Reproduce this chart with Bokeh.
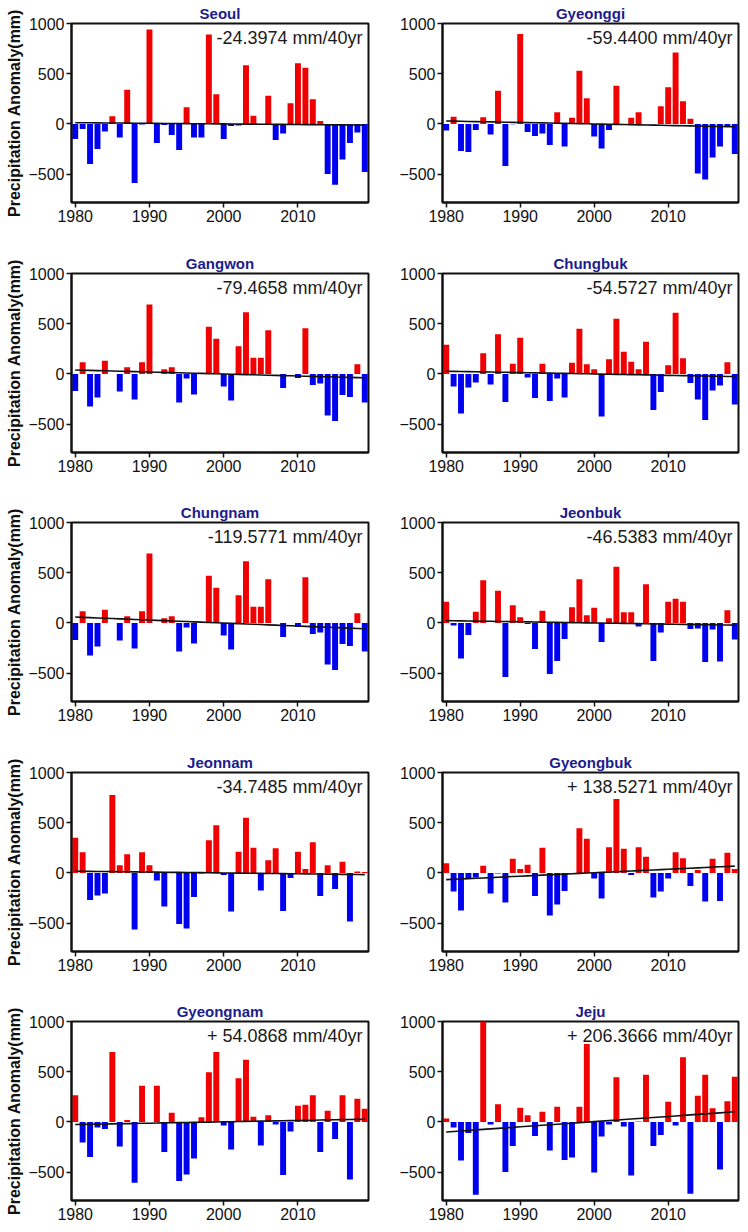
from bokeh.plotting import figure
from bokeh.layouts import column, row
from bokeh.models import Range1d, Label, FixedTicker, ColumnDataSource
from bokeh.embed import file_html
from bokeh.resources import INLINE
import numpy as np

years = list(range(1980, 2020))

regions = ["Seoul", "Gyeonggi", "Gangwon", "Chungbuk", "Chungnam",
           "Jeonbuk", "Jeonnam", "Gyeongbuk", "Gyeongnam", "Jeju"]

trend_labels = ["-24.3974 mm/40yr", "-59.4400 mm/40yr", "-79.4658 mm/40yr",
                "-54.5727 mm/40yr", "-119.5771 mm/40yr", "-46.5383 mm/40yr",
                "-34.7485 mm/40yr", "+ 138.5271 mm/40yr", "+ 54.0868 mm/40yr",
                "+ 206.3666 mm/40yr"]
trend_per_40yr = [-24.3974, -59.4400, -79.4658, -54.5727, -119.5771,
                  -46.5383, -34.7485, 138.5271, 54.0868, 206.3666]

seoul = [-150, -50, -400, -250, -75, 75, -135, 340, -590, -5,
         940, -190, -10, -110, -260, 165, -135, -135, 890, 295,
         -150, -20, -15, 585, 80, -5, 280, -160, -95, 205,
         605, 560, 245, 30, -500, -605, -355, -190, -85, -480]
gyeonggi = [-65, 70, -270, -280, -60, 65, -105, 330, -420, -3,
            895, -80, -120, -95, -210, 115, -225, 60, 530, 255,
            -125, -245, -60, 380, -3, 60, 115, -3, -3, 175,
            365, 710, 225, 50, -495, -555, -335, -225, -30, -300]
gangwon = [-170, 115, -325, -235, 130, 0, -175, 65, -255, 115,
           690, 0, 45, 65, -285, -45, -205, 0, 470, 350,
           -125, -265, 275, 615, 160, 160, 435, 0, -140, 0,
           -40, 455, -110, -95, -415, -470, -210, -230, 95, -285]
chungbuk = [290, -125, -395, -135, -85, 205, -105, 395, -280, 100,
            360, -35, -240, 100, -270, -45, -235, 110, 450, 95,
            45, -425, 145, 550, 220, 120, 45, 320, -360, -180,
            85, 610, 155, -90, -255, -460, -165, -115, 115, -305]
chungnam = [-170, 115, -325, -235, 130, 0, -175, 65, -255, 115,
            690, 0, 45, 65, -285, -45, -205, 0, 470, 350,
            -125, -265, 275, 615, 160, 160, 435, 0, -140, 0,
            -40, 455, -110, -95, -415, -470, -210, -230, 95, -285]
jeonbuk = [210, -25, -355, -120, 110, 425, 0, 320, -540, 175,
           55, -10, -260, 120, -510, -380, -160, 155, 435, 75,
           150, -190, 45, 560, 105, 105, -35, 385, -380, -95,
           210, 240, 210, -60, -55, -390, -65, -385, 125, -165]
jeonnam = [350, 205, -270, -225, -205, 775, 75, 185, -565, 205,
           75, -75, -335, 0, -510, -555, -240, -5, 325, 475,
           -20, -385, 210, 550, 250, -175, 125, 245, -380, -50,
           210, 40, 305, -230, 75, -160, 110, -485, 15, 10]
gyeongbuk = [95, -185, -375, -50, -45, 70, -205, -5, -295, 140,
             40, 80, -230, 250, -425, -315, -180, 0, 445, 340,
             -55, -255, 255, 735, 240, -20, 255, 160, -245, -185,
             -55, 205, 145, -130, 30, -285, 140, -280, 200, 40]
gyeongnam = [265, -205, -350, -55, -70, 695, -245, 20, -605, 360,
             0, 360, -300, 90, -590, -525, -365, 45, 495, 695,
             -35, -275, 435, 620, 50, -235, 65, -25, -530, -95,
             160, 170, 265, -300, 110, -170, 265, -575, 230, 130]
jeju = [35, -55, -385, -110, -725, 1010, -25, 175, -500, -240,
        140, 65, -140, 100, -285, 150, -380, -355, 150, 775,
        -505, -145, -25, 445, -45, -535, 5, 470, -240, -130,
        200, -35, 645, -715, 260, 470, 135, -475, 205, 450]

series = [seoul, gyeonggi, gangwon, chungbuk, chungnam,
          jeonbuk, jeonnam, gyeongbuk, gyeongnam, jeju]

RED = "#f00000"
BLUE = "#0000f0"
TITLE_COLOR = "#1c1c8c"
FONT = "Liberation Sans"

FRAME_H = 179
top_borders = [23, 22, 22, 22, 22]
bottom_borders = [49, 48, 49, 48, 26]


def make_panel(i):
    col = i % 2
    r = i // 2
    vals = series[i]
    left = col == 0
    fw = 297 if left else 296
    p = figure(frame_width=fw, frame_height=FRAME_H,
               x_range=Range1d(1979.5, 2019.5), y_range=Range1d(-783, 1000),
               output_backend="svg", toolbar_location=None,
               min_border_left=71 if left else 70,
               min_border_right=4 if left else 2,
               min_border_top=top_borders[r], min_border_bottom=bottom_borders[r],
               title=regions[i])
    p.title.align = "center"
    p.title.text_font = FONT
    p.title.text_font_style = "bold"
    p.title.text_font_size = "15px"
    p.title.text_color = TITLE_COLOR
    p.title.standoff = 3
    p.title.offset = 0

    colors = [RED if v >= 0 else BLUE for v in vals]
    src = ColumnDataSource(dict(x=years, top=vals, color=colors))
    p.vbar(x="x", top="top", bottom=0, width=0.8, color="color",
           line_color=None, source=src)

    yrs = np.array(years, dtype=float)
    slope = trend_per_40yr[i] / 40.0
    trend = slope * (yrs - yrs.mean())
    p.line(yrs, trend, line_color="#111111", line_width=1.6)

    lab = Label(x=fw - 6, y=FRAME_H - 14, x_units="screen", y_units="screen",
                text=trend_labels[i], text_align="right", text_baseline="middle",
                text_font=FONT, text_font_size="18px", text_color="#1a1a1a")
    p.add_layout(lab)

    p.grid.visible = False
    p.outline_line_color = "#111111"
    p.outline_line_width = 2
    p.xaxis.ticker = FixedTicker(ticks=[1980, 1990, 2000, 2010])
    p.yaxis.ticker = FixedTicker(ticks=[-500, 0, 500, 1000])
    for ax in (p.xaxis, p.yaxis):
        ax.minor_tick_line_color = None
        ax.major_tick_out = 5
        ax.major_tick_in = 0
        ax.major_label_text_font = FONT
        ax.major_label_text_font_size = "16px"
        ax.major_label_text_color = "#111111"
        ax.axis_line_color = "#111111"
        ax.axis_line_width = 2
        ax.major_tick_line_color = "#111111"
        ax.major_tick_line_width = 1.5
        ax.major_label_standoff = 2
    if left:
        p.yaxis.axis_label = "Precipitation Anomaly(mm)"
        p.yaxis.axis_label_text_font = FONT
        p.yaxis.axis_label_text_font_style = "bold"
        p.yaxis.axis_label_text_font_size = "16px"
        p.yaxis.axis_label_text_color = "#111111"
        p.yaxis.axis_label_standoff = 2
    return p


panels = [make_panel(i) for i in range(10)]
rows = [row(panels[2 * k], panels[2 * k + 1]) for k in range(5)]
layout = column(*rows)

open("out.html", "w").write(file_html(layout, INLINE))
